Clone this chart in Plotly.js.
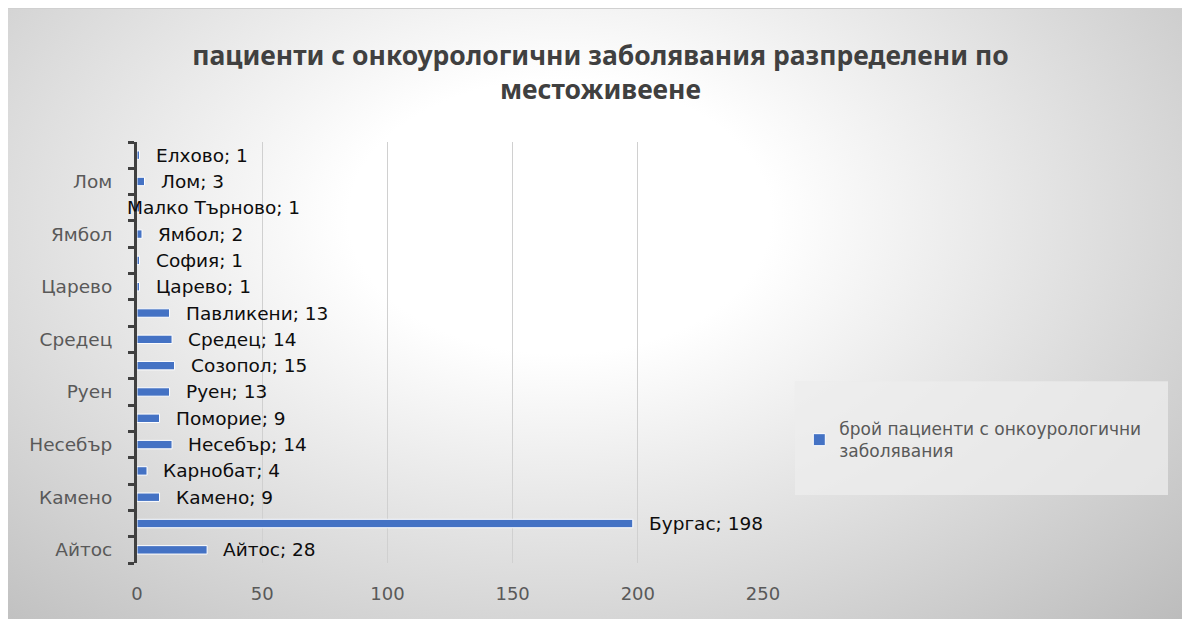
<!DOCTYPE html>
<html>
<head>
<meta charset="utf-8">
<script src="https://cdn.plot.ly/plotly-3.0.1.min.js"></script>
<style>
  html, body { margin: 0; padding: 0; background: #ffffff; }
  #bg {
    position: absolute; left: 8px; top: 8px; width: 1174px; height: 611px;
    background: radial-gradient(ellipse farthest-corner at 47% 34%, #ffffff 0%, #ffffff 24%, #bcbcbc 100%);
    border-top: 1px solid #d0d0d0;
  }
  #chart { position: absolute; left: 0; top: 0; width: 1182px; height: 619px; }
</style>
</head>
<body>
<div id="bg"></div>
<div id="chart"></div>
<script>
const categories = ["Айтос", "Бургас", "Камено", "Карнобат", "Несебър", "Поморие", "Руен", "Созопол",
                    "Средец", "Павликени", "Царево", "София", "Ямбол", "Малко Търново", "Лом", "Елхово"];
const values = [28, 198, 9, 4, 14, 9, 13, 15, 14, 13, 1, 1, 2, 1, 3, 1];
const xTicks = [0, 50, 100, 150, 200, 250];
const seriesName = "брой пациенти с онкоурологични<br>заболявания";
const titleText = "пациенти с онкоурологични заболявания разпределени по<br>местоживеене";

const FONT = "'DejaVu Sans', 'Noto Sans', sans-serif";
const TITLE_FONT = "'Noto Sans', 'Open Sans', sans-serif";

const trace = {
  type: "bar",
  orientation: "h",
  x: values,
  y: categories,
  name: seriesName,
  width: 0.32,
  marker: { color: "#4472C4", line: { color: "#ffffff", width: 1 } },
  hoverinfo: "x+y",
  showlegend: true
};

const annotations = categories.map((c, i) => ({
  x: values[i], y: c, xref: "x", yref: "y",
  text: c + "; " + values[i],
  showarrow: false, xanchor: "left", yanchor: "middle",
  xshift: c === "Малко Търново" ? -15 : 14,
  font: { family: FONT, size: 18.5, color: "#0d0d0d" }
}));

const layout = {
  width: 1182, height: 619,
  paper_bgcolor: "rgba(0,0,0,0)",
  plot_bgcolor: "rgba(0,0,0,0)",
  margin: { l: 137, r: 419, t: 142, b: 56, pad: 0 },
  font: { family: FONT, color: "#595959" },
  title: {
    text: titleText,
    x: 0.508, xanchor: "center", xref: "container",
    y: 0.895, yanchor: "top", yref: "container",
    font: { family: TITLE_FONT, size: 26.5, color: "#404040", weight: "bold" }
  },
  xaxis: {
    range: [0, 250], tickmode: "array", tickvals: xTicks, ticktext: xTicks.map(String),
    showgrid: true, gridcolor: "#d0d0d0", gridwidth: 1,
    zeroline: false, showline: false, ticks: "",
    ticklabelstandoff: 18,
    tickfont: { family: FONT, size: 18, color: "#595959" },
    fixedrange: true
  },
  yaxis: {
    type: "category",
    categoryorder: "array", categoryarray: categories,
    range: [-0.5, categories.length - 0.5],
    tickmode: "array", tickvals: categories,
    ticktext: categories.map((c, i) => (i % 2 === 0 ? c : "")),
    tickson: "boundaries",
    ticks: "outside", ticklen: 6, tickwidth: 3, tickcolor: "#404040",
    showline: true, linewidth: 3, linecolor: "#404040",
    showgrid: false, zeroline: false,
    ticklabelstandoff: 18,
    tickfont: { family: FONT, size: 18.5, color: "#595959" },
    fixedrange: true
  },
  shapes: [{
    type: "rect", xref: "paper", yref: "paper",
    x0: 1.051, x1: 1.647, y0: 0.1615, y1: 0.432,
    fillcolor: "rgba(237,237,237,0.77)", line: { width: 0 }, layer: "below"
  }],
  legend: {
    x: 1.058, xanchor: "left", y: 0.292, yanchor: "middle",
    bgcolor: "rgba(0,0,0,0)", borderwidth: 0,
    font: { family: FONT, size: 17, color: "#595959" }
  },
  annotations: annotations,
  bargap: 0.68
};

Plotly.newPlot("chart", [trace], layout, { displayModeBar: false, staticPlot: true });
</script>
</body>
</html>
